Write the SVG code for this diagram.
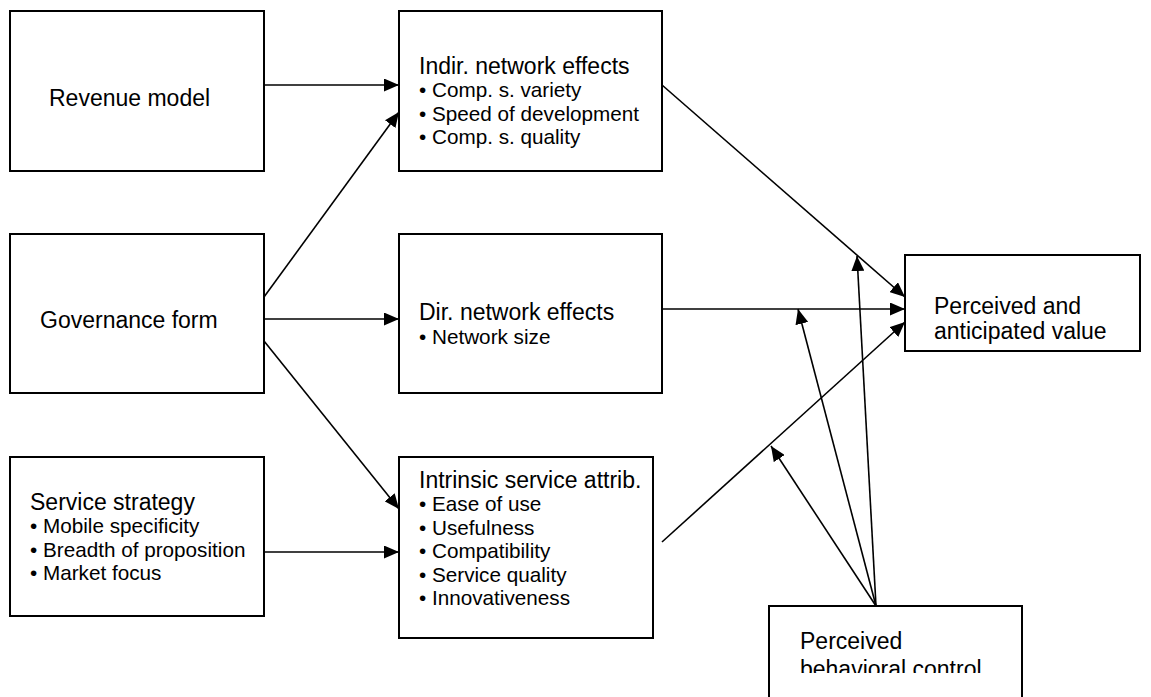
<svg xmlns="http://www.w3.org/2000/svg" width="1151" height="697" viewBox="0 0 1151 697">
<style>
.box{fill:#fff;stroke:#000;stroke-width:2}
.t{font-family:"Liberation Sans",Arial,sans-serif;font-size:23px;fill:#000}
.b{font-family:"Liberation Sans",Arial,sans-serif;font-size:20.7px;fill:#000}
.c{stroke:#000;stroke-width:1.6;fill:none;marker-end:url(#ah)}
</style>
<defs>
<marker id="ah" viewBox="0 0 15 13" refX="15" refY="6.5" markerWidth="15" markerHeight="13" markerUnits="userSpaceOnUse" orient="auto">
<path d="M0,0 L15,6.5 L0,13 z" fill="#000"/>
</marker>
<clipPath id="pbcclip"><rect x="769" y="606" width="253" height="67"/></clipPath>
</defs>
<rect width="1151" height="697" fill="#fff"/>
<g id="revenue">
<rect class="box" x="10" y="11" width="254" height="160"/>
<text class="t" x="49" y="106">Revenue model</text>
</g>
<g id="governance">
<rect class="box" x="10" y="234" width="254" height="159"/>
<text class="t" x="40" y="328">Governance form</text>
</g>
<g id="service">
<rect class="box" x="10" y="457" width="254" height="159"/>
<text class="t" x="30" y="510">Service strategy</text>
<text class="b" x="30" y="533.3">• Mobile specificity</text>
<text class="b" x="30" y="556.7">• Breadth of proposition</text>
<text class="b" x="30" y="580">• Market focus</text>
</g>
<g id="indirect">
<rect class="box" x="399" y="11" width="263" height="160"/>
<text class="t" x="419" y="74">Indir. network effects</text>
<text class="b" x="419" y="97.3">• Comp. s. variety</text>
<text class="b" x="419" y="120.6">• Speed of development</text>
<text class="b" x="419" y="143.9">• Comp. s. quality</text>
</g>
<g id="direct">
<rect class="box" x="399" y="234" width="263" height="159"/>
<text class="t" x="419" y="320">Dir. network effects</text>
<text class="b" x="419" y="344">• Network size</text>
</g>
<g id="intrinsic">
<rect class="box" x="399" y="457" width="254" height="181"/>
<text class="t" x="419" y="487.5">Intrinsic service attrib.</text>
<text class="b" x="419" y="511">• Ease of use</text>
<text class="b" x="419" y="534.5">• Usefulness</text>
<text class="b" x="419" y="558">• Compatibility</text>
<text class="b" x="419" y="581.5">• Service quality</text>
<text class="b" x="419" y="605">• Innovativeness</text>
</g>
<g id="value">
<rect class="box" x="905" y="255" width="235" height="96"/>
<text class="t" x="934" y="313.5">Perceived and</text>
<text class="t" x="934" y="339">anticipated value</text>
</g>
<g id="pbc">
<rect class="box" x="769" y="606" width="253" height="100"/>
<text class="t" x="800" y="649.3">Perceived</text>
<text class="t" x="800" y="677" clip-path="url(#pbcclip)">behavioral control</text>
</g>
<g id="connectors">
<line class="c" x1="264" y1="85" x2="399" y2="85"/>
<line class="c" x1="264" y1="319" x2="399" y2="319"/>
<line class="c" x1="264" y1="297" x2="399" y2="112"/>
<line class="c" x1="264" y1="341" x2="399" y2="509"/>
<line class="c" x1="264" y1="552" x2="399" y2="552"/>
<line class="c" x1="662" y1="85" x2="905" y2="297"/>
<line class="c" x1="662" y1="309" x2="905" y2="309"/>
<line class="c" x1="662" y1="542" x2="905" y2="322"/>
<line class="c" x1="876" y1="606" x2="771" y2="446"/>
<line class="c" x1="876" y1="606" x2="798" y2="309"/>
<line class="c" x1="876" y1="606" x2="857" y2="256"/>
</g>
</svg>
